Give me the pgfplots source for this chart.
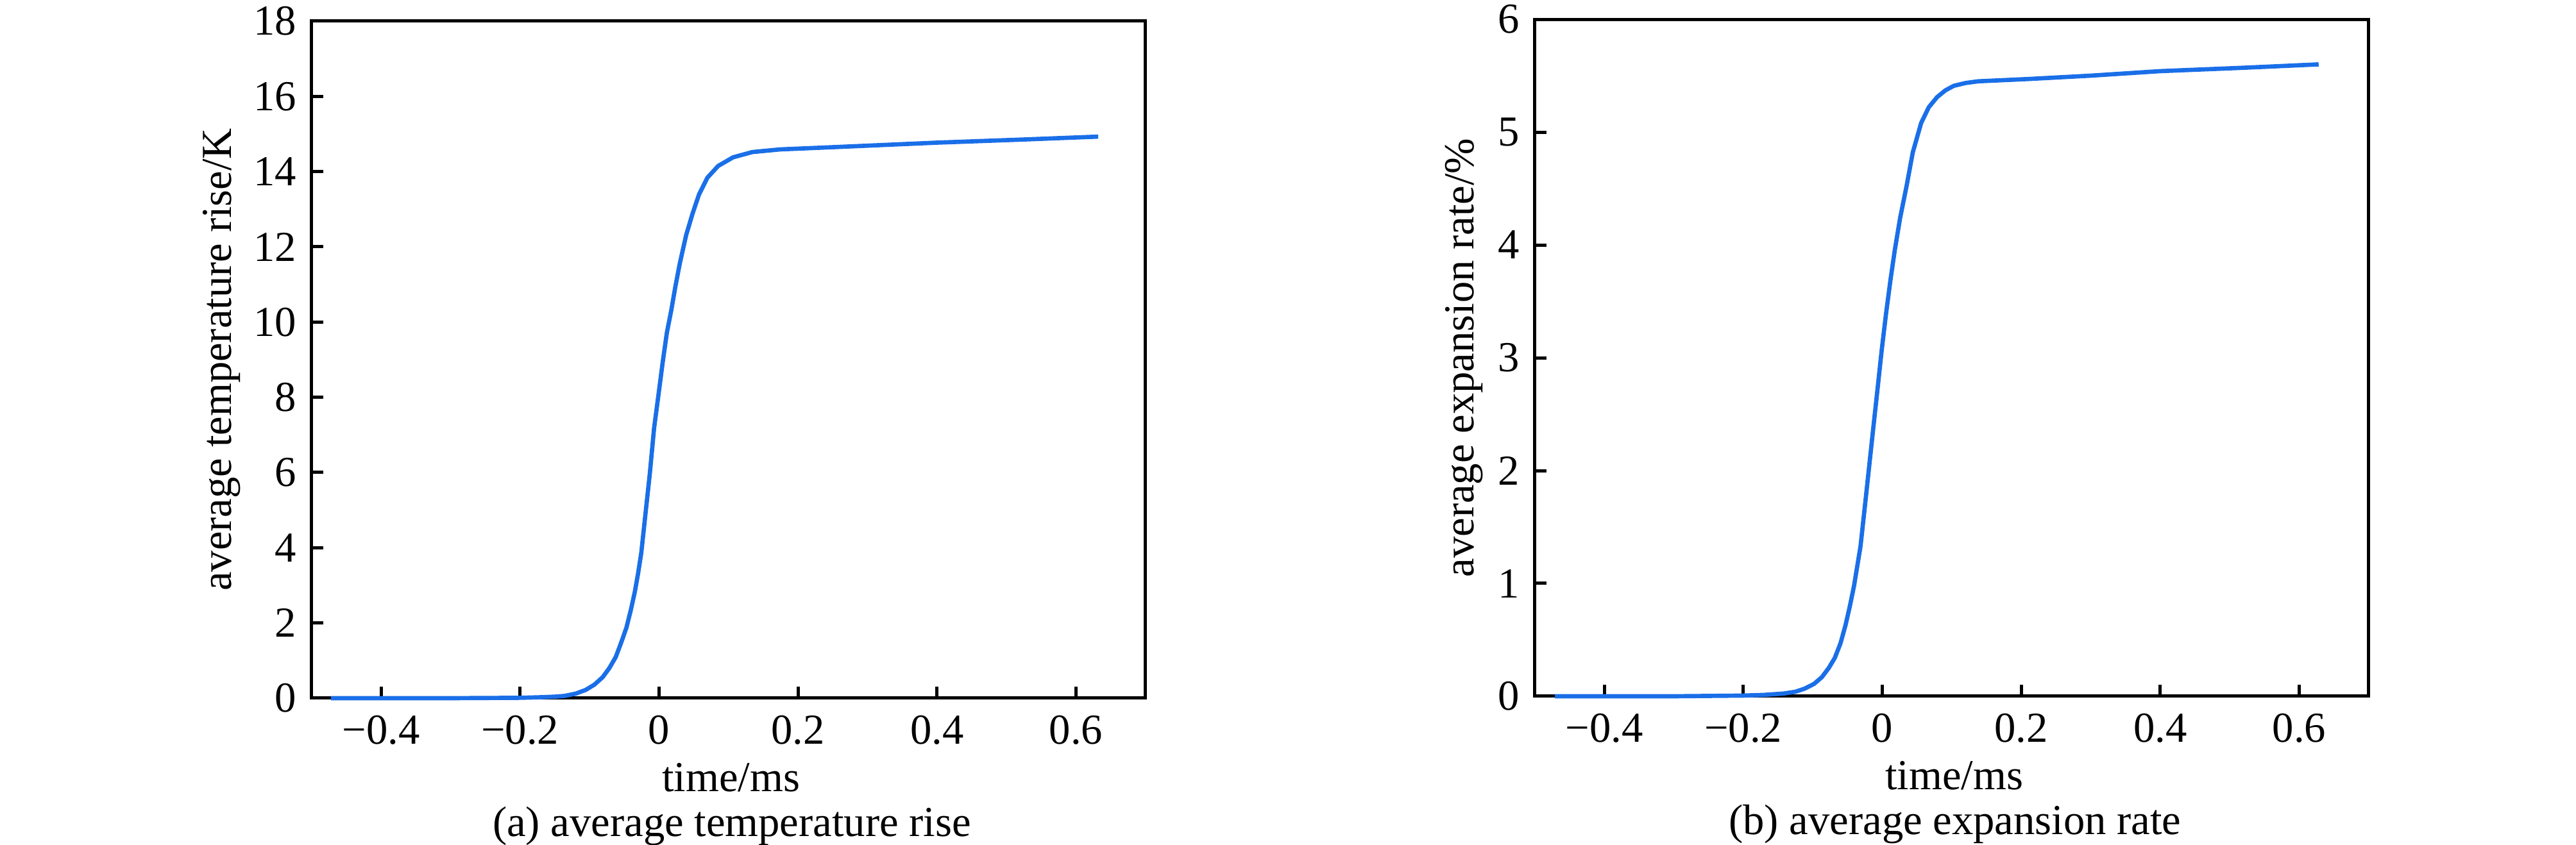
\documentclass[border=0pt]{standalone}
\usepackage{fontspec}
\setmainfont{Liberation Serif}
\usepackage{pgfplots}
\pgfplotsset{compat=1.18}
\definecolor{curve}{RGB}{26,111,232}
\pgfplotsset{
  myaxis/.style={
    scale only axis,
    width=195pt, height=158.4pt,
    xmin=-0.5, xmax=0.7, ymin=0,
    axis line style={line width=0.75pt},
    tick style={line width=0.75pt, black},
    major tick length=2.7pt,
    tick align=inside,
    xtick pos=bottom, ytick pos=left,
    xtick={-0.4,-0.2,0,0.2,0.4,0.6},
    xticklabels={−0.4,−0.2,0,0.2,0.4,0.6},
    ticklabel style={font=\normalsize},
    xticklabel style={yshift=-0.6pt},
    xlabel={time/ms},
    xlabel style={at={(axis description cs:0.503,-0.138)}, anchor=base},
    clip=false,
  }
}
\begin{document}
\begin{tikzpicture}
\useasboundingbox (0,0) rectangle (602.4pt,197.7pt);
\begin{axis}[myaxis, at={(72.86pt,34.35pt)}, anchor=south west,
  ymax=18, ytick={0,2,4,6,8,10,12,14,16,18},
  yticklabels={0,2,4,6,8,10,12,14,16,18},
  ylabel={average temperature rise/K},
  ylabel style={at={(axis description cs:-0.108,0.5)}, anchor=center, rotate=0}]
\addplot[curve, line width=1pt, line join=round] coordinates {
(-0.472,0) (-0.40,0) (-0.30,0) (-0.25,0.005) (-0.20,0.01) (-0.17,0.025) (-0.15,0.04)
(-0.136,0.06) (-0.12,0.12) (-0.1055,0.22) (-0.093,0.36) (-0.081,0.56) (-0.0715,0.80)
(-0.0624,1.09) (-0.055,1.45) (-0.047,1.87) (-0.0405,2.35) (-0.0348,2.83) (-0.03,3.33)
(-0.0255,3.87) (-0.0194,4.92) (-0.0133,5.96) (-0.0071,7.18) (-0.0009,8.05) (0.0052,8.92)
(0.0113,9.72) (0.0175,10.3) (0.0236,10.95) (0.0298,11.55) (0.039,12.31) (0.0482,12.88)
(0.0575,13.39) (0.0697,13.84) (0.0851,14.15) (0.1066,14.38) (0.1343,14.52) (0.174,14.59)
(0.251,14.65) (0.40,14.77) (0.52,14.85) (0.632,14.93)
};
\node[anchor=base] at (axis description cs:0.504,-0.2044) {(a) average temperature rise};
\end{axis}
\begin{axis}[myaxis, at={(358.9pt,34.8pt)}, anchor=south west,
  ymax=6, ytick={0,1,2,3,4,5,6},
  yticklabels={0,1,2,3,4,5,6},
  ylabel={average expansion rate/\%},
  ylabel style={at={(axis description cs:-0.085,0.5)}, anchor=center}]
\addplot[curve, line width=1pt, line join=round] coordinates {
(-0.471,0) (-0.40,0) (-0.30,0) (-0.25,0.003) (-0.20,0.006) (-0.17,0.012) (-0.142,0.024)
(-0.125,0.04) (-0.1114,0.068) (-0.098,0.11) (-0.0867,0.17) (-0.077,0.25) (-0.0682,0.34)
(-0.06,0.47) (-0.0528,0.63) (-0.0465,0.80) (-0.0405,0.98) (-0.0312,1.33) (-0.025,1.68)
(-0.0189,2.03) (-0.0128,2.38) (-0.0066,2.73) (-0.0005,3.08) (0.0057,3.40) (0.0119,3.69)
(0.018,3.95) (0.0258,4.24) (0.035,4.52) (0.044,4.82) (0.056,5.08) (0.067,5.22)
(0.079,5.31) (0.091,5.37) (0.103,5.41) (0.12,5.435) (0.138,5.45) (0.209,5.47)
(0.30,5.50) (0.40,5.54) (0.52,5.57) (0.628,5.60)
};
\node[anchor=base] at (axis description cs:0.504,-0.2044) {(b) average expansion rate};
\end{axis}
\end{tikzpicture}
\end{document}
